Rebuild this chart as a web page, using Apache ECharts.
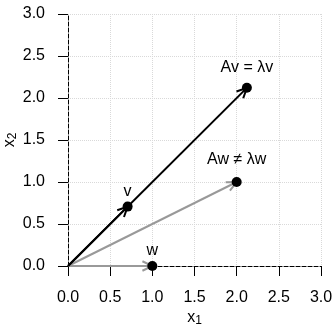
<!DOCTYPE html>
<html>
<head>
<meta charset="utf-8">
<script src="https://cdn.jsdelivr.net/npm/echarts@6/dist/echarts.min.js"></script>
<style>
  html, body { margin: 0; padding: 0; background: #fff; }
  #chart { width: 335px; height: 325px; }
</style>
</head>
<body>
<div id="chart"></div>
<script>
// eigenvector v and its image Av, plus a non-eigenvector w and Aw
const eigenX = [0.707, 2.121]
const eigenY = [0.707, 2.121]
const otherX = [1, 2]
const otherY = [0, 1]
const pointLabels = ['v', 'Av = \u03bbv', 'w', 'Aw \u2260 \u03bbw']

const font = 'Liberation Sans, Arial, sans-serif'
const chart = echarts.init(document.getElementById('chart'))

function arrowItem(color) {
    return function (params, api) {
        const p0 = api.coord([0, 0])
        const p1 = api.coord([api.value(0), api.value(1)])
        const ang = Math.atan2(p1[1] - p0[1], p1[0] - p0[0])
        const len = 11, spread = Math.PI / 7
        const a = [p1[0] - len * Math.cos(ang - spread), p1[1] - len * Math.sin(ang - spread)]
        const b = [p1[0] - len * Math.cos(ang + spread), p1[1] - len * Math.sin(ang + spread)]
        return {
            type: 'group',
            children: [
                { type: 'line', shape: { x1: p0[0], y1: p0[1], x2: p1[0], y2: p1[1] }, style: { stroke: color, lineWidth: 2 } },
                { type: 'polyline', shape: { points: [a, p1, b] }, style: { stroke: color, lineWidth: 2, fill: null } },
            ]
        }
    }
}

const allX = eigenX.concat(otherX)
const allY = eigenY.concat(otherY)
const labelGap = [2, 7, 2, 9]
const pointData = allX.map((x, i) => ({
    value: [x, allY[i]],
    label: { formatter: pointLabels[i], distance: labelGap[i] },
}))

const axisCommon = {
    type: 'value',
    min: 0,
    max: 3,
    interval: 0.5,
    axisLine: { show: true, lineStyle: { color: '#000', type: 'dashed', width: 1 } },
    axisTick: { show: true, length: 10, lineStyle: { color: '#000', width: 1 } },
    splitLine: { show: true, lineStyle: { color: '#d9d9d9', type: 'dotted', width: 1 } },
    axisLabel: {
        color: '#000',
        fontSize: 16,
        fontFamily: font,
        formatter: v => v.toFixed(1),
    },
    nameLocation: 'middle',
    nameMoveOverlap: false,
    nameTextStyle: {
        color: '#000',
        fontFamily: font,
        rich: {
            b: { fontSize: 16, fontFamily: font, color: '#000' },
            s: { fontSize: 12, fontFamily: font, color: '#000', verticalAlign: 'bottom', padding: [7, 0, 0, 0] },
        },
    },
}

chart.setOption({
    animation: false,
    grid: { left: 68, right: 14, top: 14, bottom: 59, outerBoundsMode: 'none' },
    xAxis: Object.assign({}, axisCommon, {
        name: '{b|x}{s|1}',
        nameGap: 42,
        axisLabel: Object.assign({}, axisCommon.axisLabel, { margin: 24 }),
    }),
    yAxis: Object.assign({}, axisCommon, {
        name: '{b|x}{s|2}',
        nameGap: 49,
        axisLabel: Object.assign({}, axisCommon.axisLabel, { margin: 23 }),
    }),
    series: [
        {
            type: 'custom',
            renderItem: arrowItem('#999999'),
            data: otherX.map((x, i) => [x, otherY[i]]),
            z: 3,
        },
        {
            type: 'custom',
            renderItem: arrowItem('#000000'),
            data: eigenX.map((x, i) => [x, eigenY[i]]),
            z: 4,
        },
        {
            type: 'scatter',
            symbol: 'circle',
            symbolSize: 10,
            itemStyle: { color: '#000', opacity: 1 },
            label: {
                show: true,
                position: 'top',
                color: '#000',
                fontSize: 16,
                fontFamily: font,
            },
            data: pointData,
            z: 5,
        },
    ],
})
</script>
</body>
</html>
